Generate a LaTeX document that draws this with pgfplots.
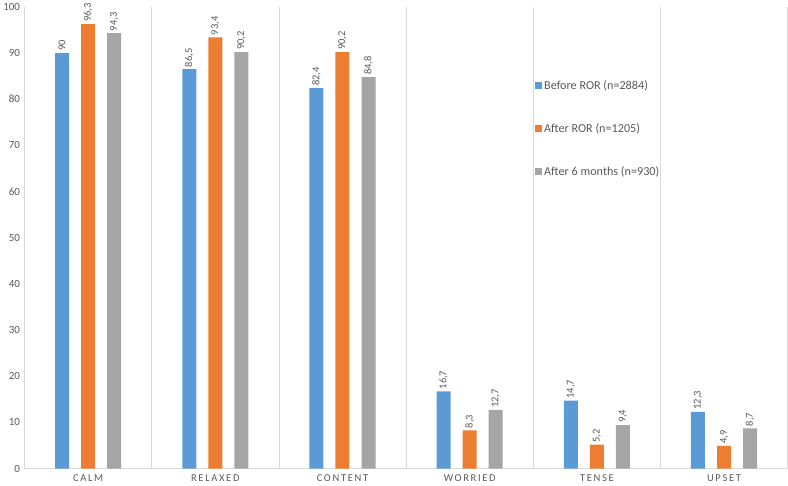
\documentclass[border=0pt]{standalone}
\usepackage{pgfplots}
\pgfplotsset{compat=1.18}
\usepackage{fontspec}
\setmainfont{Carlito}
\definecolor{cblue}{HTML}{5B9BD5}
\definecolor{corange}{HTML}{ED7D31}
\definecolor{cgray}{HTML}{A5A5A5}
\definecolor{txt}{HTML}{595959}
\definecolor{gridc}{HTML}{D9D9D9}
\newcommand{\ls}[1]{{\addfontfeature{LetterSpace=16}#1}}
\begin{document}
\begin{tikzpicture}
\begin{axis}[
  scale only axis,
  width=762bp, height=461bp,
  xmin=-0.5, xmax=5.5,
  ymin=0, ymax=100,
  ytick={0,10,...,100},
  xtick={0,1,2,3,4,5},
  xticklabels={\ls{CALM},\ls{RELAXED},\ls{CONTENT},\ls{WORRIED},\ls{TENSE},\ls{UPSET}},
  minor xtick={-0.5,0.5,...,5.5},
  xminorgrids=true,
  minor grid style={gridc, line width=0.6pt},
  major tick length=0pt, minor tick length=0pt,
  axis line style={draw=none},
  axis x line*=bottom,
  x axis line style={draw=gridc, line width=0.8pt},
  yticklabel style={font=\fontsize{11}{13}\selectfont, text=txt, xshift=-1bp},
  xticklabel style={font=\fontsize{10.5}{12}\selectfont, text=txt, yshift=-3bp},
  /pgf/number format/assume math mode=true,
  ybar,
  bar width=14bp,
  clip=false,
  nodes near coords={\pgfmathprintnumber[use comma,fixed,precision=1]{\pgfplotspointmeta}},
  nodes near coords style={rotate=90, anchor=west, font=\fontsize{10.5}{12}\selectfont, text=txt, inner sep=2bp},
  legend style={at={(0.665,0.85)}, anchor=north west, draw=none, fill=none,
     font=\fontsize{12.2}{14}\selectfont, text=txt, row sep=28.5bp},
  legend cell align=left,
  legend image code/.code={\fill[#1, draw=none] (0bp,-3.5bp) rectangle (7bp,3.5bp);},
]
\addplot[fill=cblue, draw=none, bar shift=-26bp] coordinates {(0,90) (1,86.5) (2,82.4) (3,16.7) (4,14.7) (5,12.3)};
\addplot[fill=corange, draw=none, bar shift=0bp] coordinates {(0,96.3) (1,93.4) (2,90.2) (3,8.3) (4,5.2) (5,4.9)};
\addplot[fill=cgray, draw=none, bar shift=26bp] coordinates {(0,94.3) (1,90.2) (2,84.8) (3,12.7) (4,9.4) (5,8.7)};
\legend{Before ROR (n=2884), After ROR (n=1205), After 6 months (n=930)}
\end{axis}
\end{tikzpicture}
\end{document}
